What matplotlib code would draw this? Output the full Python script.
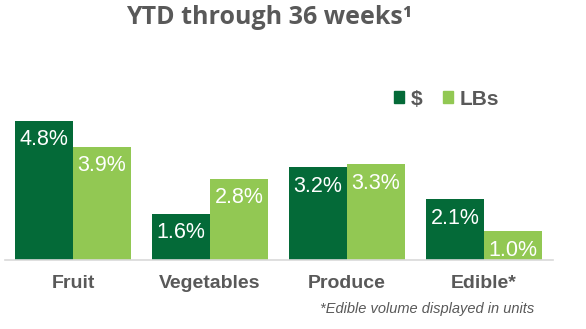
import numpy as np
import matplotlib
matplotlib.use('Agg')
from matplotlib import pyplot as plt
from matplotlib.patches import Patch

categories = ['Fruit', 'Vegetables', 'Produce', 'Edible*']
dollars = [4.8, 1.6, 3.2, 2.1]
pounds = [3.9, 2.8, 3.3, 1.0]
series_names = ['$', 'LBs']

DARK = '#046A38'
LIGHT = '#92C853'
GRAY = '#595959'

W, H = 586, 329
fig = plt.figure(figsize=(W / 100, H / 100), dpi=100)

# axes box in pixels: baseline at y=260, 29 px per percent
left, right, base, top = 4.5, 552.5, 260, 60
ax = fig.add_axes([left / W, (H - base) / H, (right - left) / W, (base - top) / H])
ax.set_xlim(-0.5, len(categories) - 0.5)
ax.set_ylim(0, (base - top) / 29.0)

x = np.arange(len(categories))
bw = 58 / 137.0
b1 = ax.bar(x - bw / 2, dollars, bw, color=DARK, label=series_names[0])
b2 = ax.bar(x + bw / 2, pounds, bw, color=LIGHT, label=series_names[1])

for bars, vals in ((b1, dollars), (b2, pounds)):
    for rect, v in zip(bars, vals):
        ax.annotate('%.1f%%' % v, (rect.get_x() + rect.get_width() / 2, v),
                    xytext=(0, -19), textcoords='offset pixels',
                    ha='center', va='center', color='white', fontsize=15.5,
                    family='Liberation Sans')

for s in ['top', 'right', 'left']:
    ax.spines[s].set_visible(False)
ax.spines['bottom'].set_color('#D9D9D9')
ax.spines['bottom'].set_linewidth(1.2)
ax.set_yticks([])
ax.set_xticks(x)
ax.set_xticklabels(categories, fontsize=14, fontweight='bold', color=GRAY,
                   family='Liberation Sans')
ax.tick_params(axis='x', length=0, pad=11)

fig.text(269 / W, 1 - 18 / H, 'YTD through 36 weeks\u00b9', ha='center', va='center',
         fontsize=18, fontweight='bold', color=GRAY, family='Open Sans')

handles = [Patch(color=DARK), Patch(color=LIGHT)]
leg = fig.legend(handles, series_names, loc='center', bbox_to_anchor=(446.5 / W, 1 - 99 / H),
                 ncol=2, frameon=False, handlelength=0.48, handleheight=0.48,
                 handletextpad=0.34, columnspacing=0.96,
                 prop={'family': 'Liberation Sans', 'weight': 'bold', 'size': 15})
for t in leg.get_texts():
    t.set_color(GRAY)

fig.text(427 / W, 1 - 309 / H, '*Edible volume displayed in units', ha='center', va='center',
         fontsize=10.5, fontstyle='italic', color=GRAY, family='Liberation Sans')

plt.savefig('out.png', dpi=100)
plt.close()
